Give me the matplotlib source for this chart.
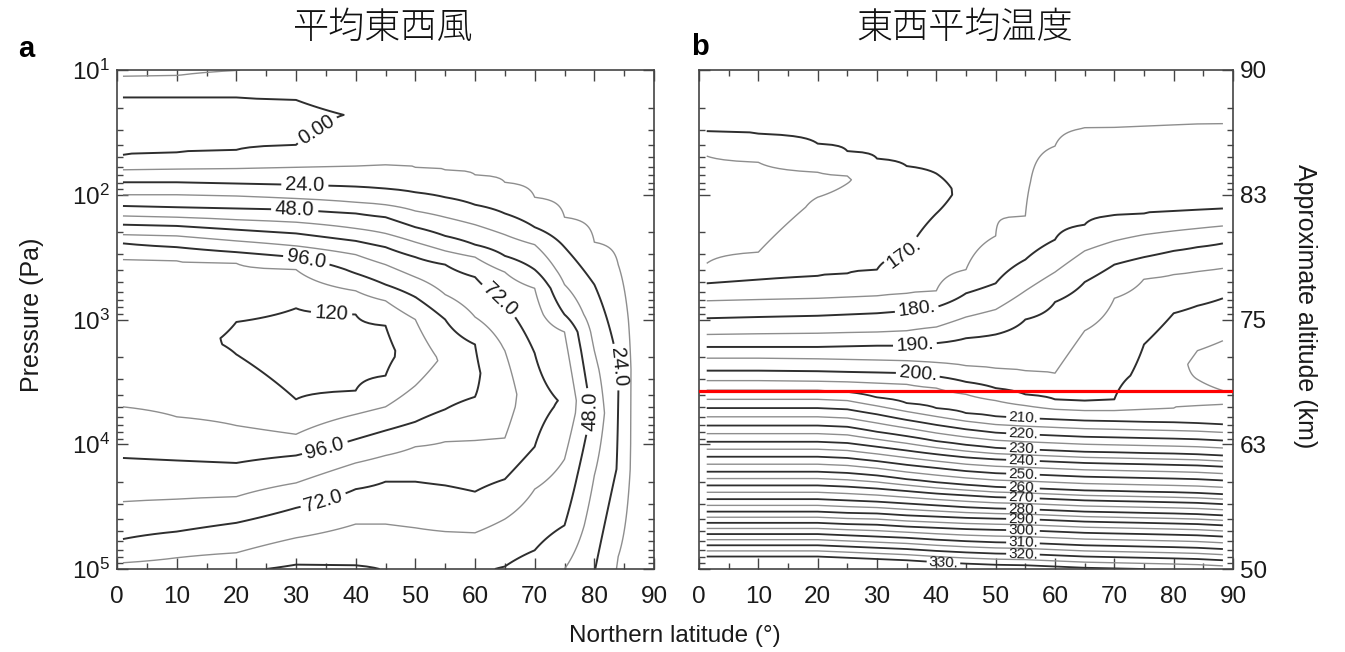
import numpy as np
import matplotlib
matplotlib.use("Agg")
import matplotlib.pyplot as plt
from matplotlib.ticker import MultipleLocator, LogLocator, NullFormatter, FixedLocator, FixedFormatter

plt.rcParams['font.family'] = ['Liberation Sans', 'DejaVu Sans']

# ---------------- data: panel a (mean zonal wind, m/s) ----------------
# columns of (log10 pressure, wind) read along each latitude
wind_lat = [1, 10, 20, 30, 40, 45, 50, 55, 60, 65, 70, 75, 80, 84, 87, 89]
wind_profiles = [
    [(1.0, 14), (1.05, 12), (1.22, 0), (1.45, -4), (1.68, 0), (1.8, 12), (1.9, 24), (2.0, 36), (2.09, 48), (2.17, 60), (2.24, 72), (2.32, 84), (2.39, 96), (2.52, 108), (3.1, 116), (3.70, 108), (4.11, 96), (4.46, 84), (4.76, 72), (4.95, 60), (5.0, 57)],
    [(1.0, 13.5), (1.045, 12), (1.22, 0), (1.45, -4), (1.66, 0), (1.795, 12), (1.9, 24), (2.0, 36), (2.1, 48), (2.18, 60), (2.25, 72), (2.33, 84), (2.42, 96), (2.53, 108), (3.2, 118), (3.78, 108), (4.13, 96), (4.44, 84), (4.70, 72), (4.91, 60), (5.0, 56)],
    [(1.0, 12.2), (1.22, 0), (1.43, -4), (1.64, 0), (1.79, 12), (1.91, 24), (2.01, 36), (2.11, 48), (2.2, 60), (2.28, 72), (2.37, 84), (2.46, 96), (2.55, 108), (3.02, 120), (3.15, 121), (3.28, 120), (3.85, 108), (4.15, 96), (4.42, 84), (4.63, 72), (4.87, 60), (5.0, 50)],
    [(1.0, 9), (1.24, 0), (1.42, -3), (1.6, 0), (1.78, 12), (1.92, 24), (2.03, 36), (2.12, 48), (2.22, 60), (2.31, 72), (2.41, 84), (2.50, 96), (2.60, 108), (2.91, 120), (3.3, 126), (3.64, 120), (3.92, 108), (4.09, 96), (4.31, 84), (4.51, 72), (4.75, 60), (4.965, 48), (5.0, 46)],
    [(1.0, 8), (1.36, 0.5), (1.77, 12), (1.935, 24), (2.06, 36), (2.15, 48), (2.27, 60), (2.37, 72), (2.48, 84), (2.63, 96), (2.77, 108), (2.96, 120), (3.25, 124), (3.57, 120), (3.76, 108), (3.96, 96), (4.15, 84), (4.36, 72), (4.64, 60), (4.97, 48), (5.0, 46)],
    [(1.0, 7), (1.76, 12), (1.95, 24), (2.08, 36), (2.18, 48), (2.31, 60), (2.42, 72), (2.56, 84), (2.72, 96), (2.85, 108), (3.05, 120), (3.25, 123), (3.45, 120), (3.70, 108), (3.89, 96), (4.09, 84), (4.30, 72), (4.64, 60), (5.0, 48.5)],
    [(1.0, 6), (1.78, 12), (1.98, 24), (2.13, 36), (2.26, 48), (2.38, 60), (2.5, 72), (2.66, 84), (2.82, 96), (3.0, 108), (3.3, 115), (3.53, 108), (3.82, 96), (4.02, 84), (4.30, 72), (4.67, 60), (5.0, 52)],
    [(1.0, 5), (1.80, 12), (2.02, 24), (2.18, 36), (2.33, 48), (2.45, 60), (2.56, 72), (2.8, 84), (3.0, 96), (3.33, 106), (3.72, 96), (3.98, 84), (4.33, 72), (4.70, 60), (5.0, 51)],
    [(1.0, 4), (1.84, 12), (2.08, 24), (2.24, 36), (2.40, 48), (2.5, 60), (2.66, 72), (2.98, 84), (3.2, 96), (3.43, 98), (3.62, 96), (3.97, 84), (4.38, 72), (4.71, 60), (5.0, 50)],
    [(1.0, 3), (1.9, 12), (2.15, 24), (2.32, 36), (2.49, 48), (2.62, 60), (2.87, 72), (3.25, 84), (3.6, 90), (3.95, 84), (4.28, 72), (4.6, 60), (4.98, 48), (5.0, 47)],
    [(1.0, 2), (2.02, 12), (2.26, 24), (2.40, 36), (2.6, 48), (2.75, 60), (3.27, 72), (3.7, 76), (4.02, 72), (4.36, 60), (4.85, 48), (5.0, 42)],
    [(1.0, 1.5), (2.18, 12), (2.42, 24), (2.72, 36), (2.96, 48), (3.1, 60), (3.65, 71), (4.12, 60), (4.65, 48), (5.0, 36)],
    [(1.0, 1), (2.38, 12), (2.72, 24), (3.25, 36), (3.75, 45), (4.25, 36), (5.0, 24.5)],
    [(1.0, 1), (2.56, 12), (3.4, 24.5), (4.2, 23), (4.9, 12), (5.0, 11)],
    [(1.0, 1), (3.0, 7), (4.0, 7), (5.0, 5)],
    [(1.0, 1), (3.0, 5), (4.0, 5), (5.0, 4)],
]
wind_major_levels = [0, 24, 48, 72, 96, 120]
wind_minor_levels = [12, 36, 60, 84, 108]
wind_label_text = {0: '0.00', 24: '24.0', 48: '48.0', 72: '72.0', 96: '96.0', 120: '120'}

# ---------------- data: panel b (zonal mean temperature, K) ----------------
temp_lat = [1.3, 10, 20, 25, 30, 35, 40, 45, 50, 55, 60, 65, 70, 75, 80, 84, 88.3]
temp_upper = [
    [(1.0, 172.5), (1.49, 170), (1.69, 165), (2.1, 162), (2.55, 165), (2.71, 170), (2.85, 175), (2.99, 180), (3.12, 185), (3.22, 190), (3.31, 195), (3.41, 200), (3.49, 205)],
    [(1.0, 172.5), (1.51, 170), (1.74, 165), (2.1, 162.5), (2.46, 165), (2.68, 170), (2.84, 175), (2.98, 180), (3.115, 185), (3.22, 190), (3.31, 195), (3.41, 200), (3.49, 205)],
    [(1.0, 173), (1.59, 170), (1.82, 165), (1.92, 164), (2.02, 165), (2.65, 170), (2.83, 175), (2.97, 180), (3.11, 185), (3.22, 190), (3.315, 195), (3.415, 200), (3.495, 205)],
    [(1.0, 173), (1.65, 170), (1.85, 165), (1.88, 164.6), (1.91, 165), (2.63, 170), (2.82, 175), (2.96, 180), (3.105, 185), (3.215, 190), (3.32, 195), (3.42, 200), (3.50, 205)],
    [(1.0, 173.5), (1.71, 170), (1.95, 166.5), (2.60, 170), (2.81, 175), (2.95, 180), (3.10, 185), (3.21, 190), (3.325, 195), (3.425, 200), (3.51, 205)],
    [(1.0, 173.5), (1.77, 170), (2.05, 167.5), (2.47, 170), (2.79, 175), (2.93, 180), (3.09, 185), (3.21, 190), (3.33, 195), (3.43, 200), (3.52, 205)],
    [(1.0, 173.5), (1.83, 170), (2.0, 168.5), (2.15, 170), (2.77, 175), (2.90, 180), (3.06, 185), (3.19, 190), (3.345, 195), (3.455, 200), (3.55, 205)],
    [(1.0, 174), (1.95, 171), (2.60, 175), (2.79, 180), (2.98, 185), (3.15, 190), (3.37, 195), (3.50, 200), (3.60, 205)],
    [(1.0, 174), (2.33, 175), (2.71, 180), (2.92, 185), (3.12, 190), (3.39, 195), (3.55, 200), (3.65, 205)],
    [(1.0, 174), (1.9, 174.6), (2.17, 175), (2.52, 180), (2.77, 185), (3.0, 190), (3.41, 195), (3.60, 200), (3.69, 205)],
    [(1.0, 174), (1.61, 175), (2.36, 180), (2.62, 185), (2.86, 190), (3.43, 195), (3.64, 200), (3.72, 205)],
    [(1.0, 174), (1.465, 175), (2.24, 180), (2.45, 185), (2.70, 190), (3.09, 195), (3.65, 200), (3.73, 205)],
    [(1.0, 174), (1.46, 175), (2.165, 180), (2.37, 185), (2.56, 190), (2.83, 195), (3.64, 200), (3.73, 205)],
    [(1.0, 174), (1.45, 175), (2.15, 180), (2.32, 185), (2.50, 190), (2.675, 195), (3.20, 200), (3.45, 201), (3.72, 205)],
    [(1.0, 174), (1.44, 175), (2.13, 180), (2.29, 185), (2.45, 190), (2.64, 195), (2.95, 200), (3.35, 203.5), (3.71, 205)],
    [(1.0, 174), (1.435, 175), (2.12, 180), (2.27, 185), (2.42, 190), (2.615, 195), (2.89, 200), (3.25, 205), (3.36, 206), (3.48, 205), (3.59, 204), (3.69, 205)],
    [(1.0, 174), (1.43, 175), (2.11, 180), (2.25, 185), (2.39, 190), (2.59, 195), (2.83, 200), (3.17, 205), (3.37, 207.5), (3.57, 205), (3.62, 204.5), (3.68, 205)],
]
temp_lower_levels = [210, 220, 230, 240, 250, 260, 270, 280, 290, 300, 310, 320, 330, 340]
temp_lower_pos = [
    [3.57, 3.71, 3.85, 3.98, 4.10, 4.22, 4.33, 4.44, 4.54, 4.63, 4.72, 4.81, 4.90, 4.99],
    [3.57, 3.71, 3.85, 3.98, 4.10, 4.22, 4.33, 4.44, 4.54, 4.63, 4.72, 4.81, 4.90, 4.99],
    [3.57, 3.71, 3.85, 3.98, 4.10, 4.22, 4.33, 4.44, 4.54, 4.63, 4.72, 4.81, 4.90, 4.99],
    [3.58, 3.72, 3.86, 3.99, 4.11, 4.23, 4.34, 4.45, 4.55, 4.64, 4.73, 4.82, 4.91, 5.00],
    [3.625, 3.76, 3.90, 4.02, 4.135, 4.25, 4.355, 4.46, 4.555, 4.645, 4.74, 4.83, 4.92, 5.01],
    [3.67, 3.805, 3.935, 4.05, 4.165, 4.28, 4.375, 4.475, 4.57, 4.66, 4.75, 4.84, 4.93, 5.02],
    [3.71, 3.845, 3.975, 4.08, 4.19, 4.305, 4.395, 4.49, 4.58, 4.67, 4.765, 4.855, 4.945, 5.035],
    [3.75, 3.88, 4.005, 4.105, 4.215, 4.325, 4.41, 4.505, 4.59, 4.68, 4.777, 4.867, 4.957, 5.047],
    [3.777, 3.907, 4.029, 4.121, 4.232, 4.342, 4.424, 4.515, 4.596, 4.686, 4.786, 4.876, 4.966, 5.056],
    [3.79, 3.92, 4.04, 4.13, 4.24, 4.35, 4.43, 4.52, 4.60, 4.69, 4.79, 4.88, 4.97, 5.06],
    [3.80, 3.93, 4.05, 4.14, 4.25, 4.36, 4.44, 4.53, 4.61, 4.70, 4.80, 4.89, 4.98, 5.07],
    [3.81, 3.94, 4.06, 4.15, 4.26, 4.37, 4.45, 4.54, 4.62, 4.71, 4.81, 4.90, 4.99, 5.08],
    [3.815, 3.945, 4.065, 4.155, 4.265, 4.375, 4.455, 4.545, 4.625, 4.715, 4.815, 4.905, 4.995, 5.085],
    [3.82, 3.95, 4.07, 4.16, 4.27, 4.38, 4.46, 4.55, 4.63, 4.72, 4.82, 4.91, 5.0, 5.09],
    [3.825, 3.955, 4.075, 4.165, 4.275, 4.385, 4.465, 4.555, 4.635, 4.725, 4.825, 4.915, 5.005, 5.095],
    [3.83, 3.96, 4.08, 4.17, 4.28, 4.39, 4.47, 4.56, 4.64, 4.73, 4.83, 4.92, 5.01, 5.10],
    [3.84, 3.97, 4.09, 4.18, 4.29, 4.40, 4.48, 4.57, 4.65, 4.74, 4.84, 4.93, 5.02, 5.11],
]
temp_minor_levels = [165, 175, 185, 195, 205, 215, 225, 235, 245, 255, 265, 275, 285, 295, 305, 315, 325]
temp_major_upper = [170, 180, 190, 200]
temp_major_lower = [210, 220, 230, 240, 250, 260, 270, 280, 290, 300, 310, 320, 330]

altitude_ticks_pa = [1e1, 1e2, 1e3, 1e4, 1e5]
altitude_labels = ['90', '83', '75', '63', '50']
red_line_pa = 10 ** 3.576
lat_ticks = [0, 10, 20, 30, 40, 50, 60, 70, 80, 90]

# ---------------- build gridded fields ----------------
logp_grid = np.linspace(1.0, 5.0, 401)
P_grid = 10 ** logp_grid


def build_field(profiles):
    Z = np.empty((len(logp_grid), len(profiles)))
    for j, prof in enumerate(profiles):
        xs = [p for p, v in prof]
        vs = [v for p, v in prof]
        Z[:, j] = np.interp(logp_grid, xs, vs)
    return Z


Zw = build_field(wind_profiles)
temp_profiles = [up + list(zip(pos, temp_lower_levels)) for up, pos in zip(temp_upper, temp_lower_pos)]
Zt = build_field(temp_profiles)

# ---------------- figure ----------------
W, H = 1345, 652
fig = plt.figure(figsize=(W / 100, H / 100), dpi=100)
fig.patch.set_facecolor('white')


def fx(x):
    return x / W


def fy(y):
    return 1 - y / H


ax_a = fig.add_axes([fx(117), fy(569), 537 / W, 499 / H])
ax_b = fig.add_axes([fx(699), fy(569), 534 / W, 499 / H])

DARK = '#2e2e2e'
LIGHT = '#8e8e8e'

for ax in (ax_a, ax_b):
    ax.set_yscale('log')
    ax.set_xlim(0, 90)
    ax.set_ylim(1e5, 1e1)
    ax.xaxis.set_major_locator(FixedLocator(lat_ticks))
    ax.xaxis.set_minor_locator(MultipleLocator(5))
    ax.yaxis.set_major_locator(LogLocator(base=10))
    ax.yaxis.set_minor_locator(LogLocator(base=10, subs=np.arange(2, 10)))
    ax.yaxis.set_minor_formatter(NullFormatter())
    ax.tick_params(which='both', direction='in', top=True, right=True, color='#444444', width=1.0)
    ax.tick_params(which='major', length=8)
    ax.tick_params(which='minor', length=4)
    ax.tick_params(axis='x', labelsize=17.5, pad=12, labelcolor='#1a1a1a')
    ax.tick_params(axis='y', labelsize=17.5, pad=5, labelcolor='#1a1a1a')
    for s in ax.spines.values():
        s.set_color('#444444')
        s.set_linewidth(1.2)

# panel a contours
ax_a.contour(wind_lat, P_grid, Zw, levels=wind_minor_levels, colors=LIGHT, linewidths=1.0)
cs_a = ax_a.contour(wind_lat, P_grid, Zw, levels=wind_major_levels, colors=DARK, linewidths=1.4)
wind_label_pos = [(34.5, 10 ** 1.56), (31.5, 10 ** 1.89), (29.8, 10 ** 2.09), (32, 10 ** 2.46),
                  (36, 10 ** 2.90), (64.2, 10 ** 2.84), (84, 10 ** 3.38), (79, 10 ** 3.74),
                  (35, 10 ** 4.06), (34.5, 10 ** 4.44)]
ax_a.clabel(cs_a, fmt=wind_label_text, fontsize=14.5, inline=True, inline_spacing=4,
            manual=wind_label_pos, colors='#1a1a1a')

# panel b contours
ax_b.contour(temp_lat, P_grid, Zt, levels=temp_minor_levels, colors=LIGHT, linewidths=1.0)
cs_b1 = ax_b.contour(temp_lat, P_grid, Zt, levels=temp_major_upper, colors=DARK, linewidths=1.4)
cs_b2 = ax_b.contour(temp_lat, P_grid, Zt, levels=temp_major_lower, colors=DARK, linewidths=1.3)
ax_b.clabel(cs_b1, fmt=lambda v: f"{v:.0f}.", fontsize=14, inline=True, inline_spacing=3,
            manual=[(34.7, 10 ** 2.50), (36.7, 10 ** 2.92), (36.4, 10 ** 3.21), (36.9, 10 ** 3.43)],
            colors='#1a1a1a')
low_pos = [3.79, 3.92, 4.04, 4.13, 4.24, 4.35, 4.43, 4.52, 4.60, 4.69, 4.79, 4.88]
ax_b.clabel(cs_b2, fmt=lambda v: f"{v:.0f}.", fontsize=11, inline=True, inline_spacing=2,
            manual=[(54.6, 10 ** p) for p in low_pos] + [(41.2, 10 ** 4.95)], colors='#1a1a1a')

ax_b.axhline(red_line_pa, color='#ff0000', lw=2.3, zorder=5)

# panel b y ticks on the right as altitude
ax_b.yaxis.set_major_locator(FixedLocator(altitude_ticks_pa))
ax_b.yaxis.set_major_formatter(FixedFormatter(altitude_labels))
ax_b.tick_params(axis='y', which='both', labelleft=False, labelright=True)

# texts
fig.text(fx(383), fy(28), '平均東西風', family=['Noto Sans CJK JP', 'DejaVu Sans'],
         fontsize=26, fontweight='light', ha='center', va='center', color='#111111')
fig.text(fx(965), fy(28), '東西平均温度', family=['Noto Sans CJK JP', 'DejaVu Sans'],
         fontsize=26, fontweight='light', ha='center', va='center', color='#111111')
fig.text(fx(26), fy(49), 'a', fontsize=21, fontweight='bold', ha='center', va='center')
fig.text(fx(700), fy(47), 'b', fontsize=21, fontweight='bold', ha='center', va='center')
fig.text(fx(675), fy(636), 'Northern latitude (°)', fontsize=17.5, ha='center', va='center', color='#1a1a1a')
fig.text(fx(32), fy(315), 'Pressure (Pa)', fontsize=18, rotation=90, ha='center', va='center', color='#1a1a1a')
fig.text(fx(1305), fy(306), 'Approximate altitude (km)', fontsize=18, rotation=270, ha='center', va='center',
         color='#1a1a1a')

fig.savefig('out.png', dpi=100, facecolor='white')
